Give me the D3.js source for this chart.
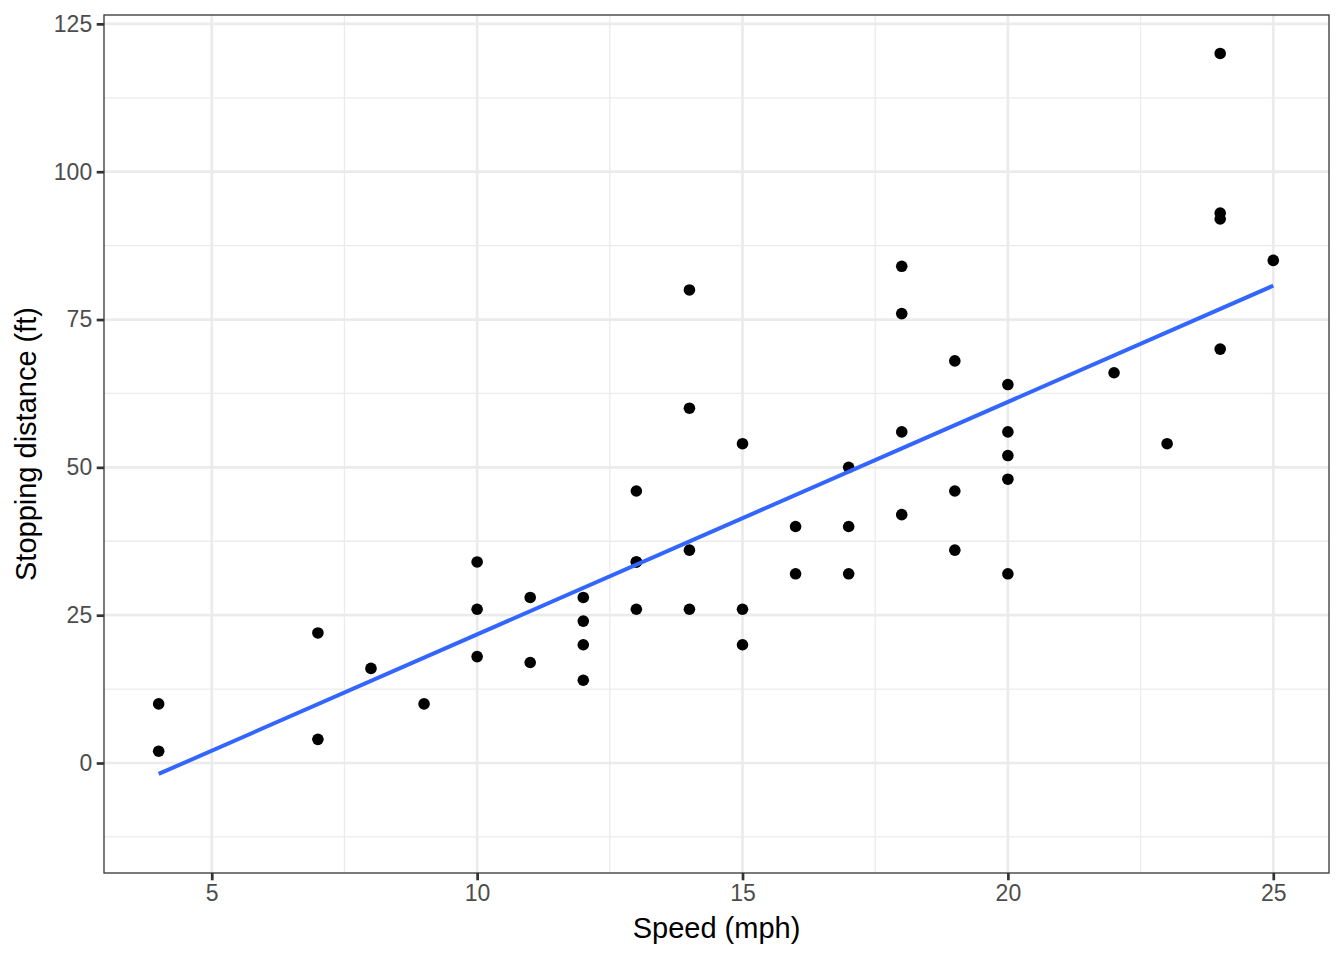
<!DOCTYPE html>
<html>
<head>
<meta charset="utf-8">
<script src="https://cdn.jsdelivr.net/npm/d3@7"></script>
<style>
  body { margin: 0; background: #fff; }
  text { font-family: "Liberation Sans", Arial, sans-serif; }
</style>
</head>
<body>
<div id="chart"></div>
<script>
"use strict";

// cars data: speed (mph) and stopping distance (ft)
const speed = [4, 4, 7, 7, 8, 9, 10, 10, 10, 11, 11, 12, 12, 12, 12, 13, 13, 13, 13, 14,
  14, 14, 14, 15, 15, 15, 16, 16, 17, 17, 17, 18, 18, 18, 18, 19, 19, 19, 20, 20,
  20, 20, 20, 22, 23, 24, 24, 24, 24, 25];
const dist = [2, 10, 4, 22, 16, 10, 18, 26, 34, 17, 28, 14, 20, 24, 28, 26, 34, 34, 46, 26,
  36, 60, 80, 20, 26, 54, 32, 40, 32, 40, 50, 42, 56, 76, 84, 36, 46, 68, 32, 48,
  52, 56, 64, 66, 54, 70, 92, 93, 120, 85];
const xTicks = [5, 10, 15, 20, 25];
const yTicks = [0, 25, 50, 75, 100, 125];
const xMinor = [7.5, 12.5, 17.5, 22.5];
const yMinor = [-12.5, 12.5, 37.5, 62.5, 87.5, 112.5];

const width = 1344;
const height = 960;
const margin = { top: 15, right: 15, bottom: 87, left: 104 };

// least squares fit, as geom_smooth(method = "lm")
function linearFit(xs, ys) {
  const mx = d3.mean(xs);
  const my = d3.mean(ys);
  let sxy = 0;
  let sxx = 0;
  for (let i = 0; i < xs.length; i++) {
    sxy += (xs[i] - mx) * (ys[i] - my);
    sxx += (xs[i] - mx) * (xs[i] - mx);
  }
  const slope = sxy / sxx;
  return { slope: slope, intercept: my - slope * mx };
}

const fit = linearFit(speed, dist);
const fitLine = d3.extent(speed).map(s => ({ x: s, y: fit.intercept + fit.slope * s }));

const x = d3.scaleLinear()
  .domain([2.97, 26.05])
  .range([margin.left, width - margin.right]);
const y = d3.scaleLinear()
  .domain([-18.6, 126.5])
  .range([height - margin.bottom, margin.top]);

const svg = d3.select("#chart")
  .append("svg")
  .attr("width", width)
  .attr("height", height);

svg.append("clipPath")
  .attr("id", "panel-clip")
  .append("rect")
  .attr("x", margin.left)
  .attr("y", margin.top)
  .attr("width", width - margin.left - margin.right)
  .attr("height", height - margin.top - margin.bottom);

const panel = svg.append("g").attr("clip-path", "url(#panel-clip)");

// minor grid
panel.selectAll(".xminor").data(xMinor).enter()
  .append("line")
  .attr("x1", d => x(d)).attr("x2", d => x(d))
  .attr("y1", margin.top).attr("y2", height - margin.bottom)
  .attr("stroke", "#ebebeb").attr("stroke-width", 1.3);
panel.selectAll(".yminor").data(yMinor).enter()
  .append("line")
  .attr("y1", d => y(d)).attr("y2", d => y(d))
  .attr("x1", margin.left).attr("x2", width - margin.right)
  .attr("stroke", "#ebebeb").attr("stroke-width", 1.3);

// major grid
panel.selectAll(".xmajor").data(xTicks).enter()
  .append("line")
  .attr("x1", d => x(d)).attr("x2", d => x(d))
  .attr("y1", margin.top).attr("y2", height - margin.bottom)
  .attr("stroke", "#ebebeb").attr("stroke-width", 2.7);
panel.selectAll(".ymajor").data(yTicks).enter()
  .append("line")
  .attr("y1", d => y(d)).attr("y2", d => y(d))
  .attr("x1", margin.left).attr("x2", width - margin.right)
  .attr("stroke", "#ebebeb").attr("stroke-width", 2.7);

// points
panel.selectAll("circle").data(speed).enter()
  .append("circle")
  .attr("cx", d => x(d))
  .attr("cy", (d, i) => y(dist[i]))
  .attr("r", 5.8)
  .attr("fill", "#000");

// regression line
panel.append("path")
  .datum(fitLine)
  .attr("d", d3.line().x(d => x(d.x)).y(d => y(d.y)))
  .attr("fill", "none")
  .attr("stroke", "#3366FF")
  .attr("stroke-width", 4);

// panel border
svg.append("rect")
  .attr("x", margin.left)
  .attr("y", margin.top)
  .attr("width", width - margin.left - margin.right)
  .attr("height", height - margin.top - margin.bottom)
  .attr("fill", "none")
  .attr("stroke", "#333333")
  .attr("stroke-width", 1.3);

// axes
const xAxis = svg.append("g")
  .attr("transform", `translate(0,${height - margin.bottom})`)
  .call(d3.axisBottom(x).tickValues(xTicks).tickSize(7.3).tickPadding(4.5));
const yAxis = svg.append("g")
  .attr("transform", `translate(${margin.left},0)`)
  .call(d3.axisLeft(y).tickValues(yTicks).tickSize(7.3).tickPadding(4.5));

[xAxis, yAxis].forEach(g => {
  g.select(".domain").remove();
  g.selectAll(".tick line").attr("stroke", "#333333").attr("stroke-width", 2.7);
  g.selectAll(".tick text")
    .attr("fill", "#4d4d4d")
    .style("font-size", "23px")
    .style("font-family", "'Liberation Sans', Arial, sans-serif");
});

// axis titles
svg.append("text")
  .attr("x", (margin.left + width - margin.right) / 2)
  .attr("y", 938)
  .attr("text-anchor", "middle")
  .attr("fill", "#000")
  .style("font-size", "29px")
  .text("Speed (mph)");

svg.append("text")
  .attr("transform", `translate(36,${(margin.top + height - margin.bottom) / 2}) rotate(-90)`)
  .attr("text-anchor", "middle")
  .attr("fill", "#000")
  .style("font-size", "29px")
  .text("Stopping distance (ft)");
</script>
</body>
</html>
